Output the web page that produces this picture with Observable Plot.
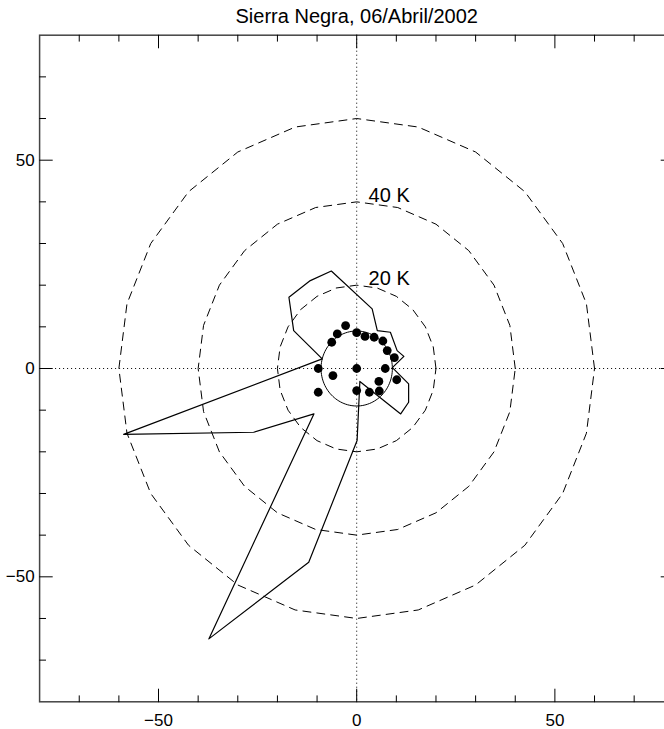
<!DOCTYPE html>
<html><head><meta charset="utf-8">
<script src="https://cdn.jsdelivr.net/npm/d3@7"></script>
<script src="https://cdn.jsdelivr.net/npm/@observablehq/plot@0.6"></script>
<style>
html,body{margin:0;padding:0;background:#fff;overflow:hidden;}
#chart svg{overflow:hidden;display:block;}
</style></head><body><div id="chart"></div>
<script>
const title = "Sierra Negra, 06/Abril/2002";
const axisDomain = [-80, 80];
const majorTicks = [-50, 0, 50];
const minorTicks = [-70, -60, -40, -30, -20, -10, 10, 20, 30, 40, 60, 70];
const ringRadii = [20, 40, 60];
const ringLabels = ["20 K", "40 K"];
const ringLabelY = [20, 40];
const ringLabelX = 3;
const innerRadius = 9;

const dotX = [-2.8, -4.9, -6.3, 0.0, 2.1, 4.4, 6.6, 7.7, 9.5, 7.2, 10.1, 5.6, 5.7, 3.2, 0.0, 0.0, -6.0, -9.7, -9.7];
const dotY = [10.3, 8.3, 6.3, 8.6, 7.7, 7.5, 6.6, 4.3, 2.6, 0.0, -2.7, -3.1, -5.4, -5.7, -5.3, 0.0, -1.7, 0.0, -5.7];

const outlineX = [-8.7, -15.9, -17.1, -11.7, -6.4, 3.9, 5.2, 8.5, 10.2, 11.9, 9.0, 13.1, 13.1, 11.1, 0.8, 0.1, -12.1, -37.3, -10.8, -26.0, -58.8];
const outlineY = [2.3, 9.1, 17.1, 21.1, 23.4, 14.3, 9.1, 8.7, 4.3, 2.9, 0.2, -3.7, -8.1, -10.9, -3.1, -17.3, -46.5, -64.9, -10.9, -15.3, -15.8];

const dots = dotX.map((x, i) => ({x, y: dotY[i]}));
const outline = outlineX.map((x, i) => ({x, y: outlineY[i]}));

// reference rings drawn as 24-sided polygons (15 degree steps), as in the original
const rings = [];
for (const r of ringRadii) {
  for (let a = 0; a <= 360; a += 15) {
    const t = a * Math.PI / 180;
    rings.push({r, x: r * Math.cos(t), y: r * Math.sin(t)});
  }
}
const inner = [];
for (let a = 0; a <= 360; a += 3) {
  const t = a * Math.PI / 180;
  inner.push({x: innerRadius * Math.cos(t), y: innerRadius * Math.sin(t)});
}

const tickShape = {draw(ctx, l) { ctx.moveTo(0, 0); ctx.lineTo(0, -l); }};
const minorLen = 6, majorLen = 12.7;
function ticks(values, side) {
  const rot = {bottom: 0, top: 180, left: 90, right: -90}[side];
  const isX = side === "bottom" || side === "top";
  const ch = isX ? {x: d => d} : {y: d => d};
  return [
    Plot.vector(values === "minor" ? minorTicks : majorTicks, {
      ...ch, frameAnchor: side, rotate: rot, anchor: "start",
      length: values === "minor" ? minorLen : majorLen,
      shape: tickShape, stroke: "black", strokeWidth: 1
    })
  ];
}

const font = "'Liberation Sans', Arial, Helvetica, sans-serif";

const plot = Plot.plot({
  width: 664,
  height: 729,
  marginLeft: 39.1,
  marginRight: -9.3,
  marginTop: 34.7,
  marginBottom: 27.7,
  x: {domain: axisDomain},
  y: {domain: axisDomain},
  style: {fontFamily: font, background: "white", color: "black", overflow: "hidden"},
  marks: [
    Plot.ruleY([0], {stroke: "black", strokeDasharray: "1,3", strokeWidth: 1}),
    Plot.ruleX([0], {stroke: "black", strokeDasharray: "1,3", strokeWidth: 1}),
    Plot.line(rings, {x: "x", y: "y", z: "r", stroke: "black", strokeWidth: 1, strokeDasharray: "8,6"}),
    Plot.line(inner, {x: "x", y: "y", stroke: "black", strokeWidth: 1}),
    Plot.line(outline, {x: "x", y: "y", curve: "linear-closed", stroke: "black", strokeWidth: 1.2}),
    Plot.dot(dots, {x: "x", y: "y", r: 4.4, fill: "black", stroke: null}),
    Plot.text(ringLabelY, {x: () => ringLabelX, y: d => d, text: (d, i) => ringLabels[i], textAnchor: "start", lineAnchor: "bottom", fontSize: 20, fill: "black"}),
    Plot.frame({stroke: "#444", strokeWidth: 1.5}),
    ...ticks("minor", "bottom"), ...ticks("major", "bottom"),
    ...ticks("minor", "top"), ...ticks("major", "top"),
    ...ticks("minor", "left"), ...ticks("major", "left"),
    ...ticks("minor", "right"), ...ticks("major", "right"),
    Plot.axisX(majorTicks, {anchor: "bottom", tickSize: 0, tickPadding: 12.6, fontSize: 17, label: null, fill: "black"}),
    Plot.axisY(majorTicks, {anchor: "left", tickSize: 0, tickPadding: 5, fontSize: 17, label: null, fill: "black"}),
    Plot.text([title], {frameAnchor: "top", dy: -12, lineAnchor: "bottom", fontSize: 20, fill: "black"})
  ]
});
document.getElementById("chart").appendChild(plot);
</script></body></html>
